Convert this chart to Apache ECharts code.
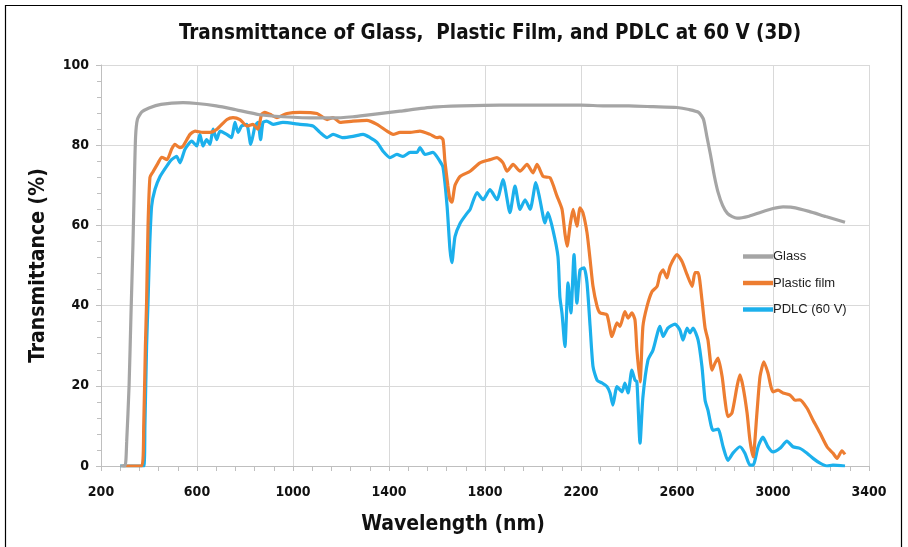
<!DOCTYPE html>
<html><head><meta charset="utf-8">
<script src="https://cdn.jsdelivr.net/npm/echarts@6/dist/echarts.min.js"></script>
<style>html,body{margin:0;padding:0;background:#fff}#c{width:908px;height:547px}</style>
</head><body><div id="c"></div>
<script>
var titleText = 'Transmittance of Glass,  Plastic Film, and PDLC at 60 V (3D)';
var xTitle = 'Wavelength (nm)';
var yTitle = 'Transmittance (%)';
var seriesNames = ['Glass', 'Plastic film', 'PDLC (60 V)'];
var xTicks = {min: 200, max: 3400, step: 400};
var yTicks = {min: 0, max: 100, step: 20};

var glassWl = [280,300,307,317,325,333,338,344,352,370,400,450,542,600,680,750,862,958,1100,1167,1250,1308,1446,1583,1700,1862,2000,2200,2300,2400,2500,2600,2650,2690,2710,2725,2740,2755,2770,2790,2810,2830,2850,2900,2950,3000,3042,3080,3150,3220,3300];
var glassT = [0,0,6,20,38,55,68,82,86.5,88.3,89.3,90.2,90.6,90.4,89.8,89,87.6,87.1,86.8,86.8,87.1,87.5,88.5,89.5,89.8,90,90,90,89.8,89.8,89.6,89.4,88.9,88.2,86.5,82,77.5,72.5,68.5,65,63,62.2,61.8,62.3,63.3,64.2,64.6,64.5,63.5,62.2,60.8];

var plasticWl = [290,370,378,385,390,396,404,417,438,453,475,494,508,529,542,571,592,625,654,683,725,750,779,808,833,854,869,883,904,933,975,1029,1100,1142,1167,1196,1250,1308,1350,1392,1417,1446,1488,1529,1571,1600,1612,1625,1633,1645,1654,1662,1675,1696,1738,1779,1821,1850,1875,1892,1917,1946,1975,2000,2017,2042,2071,2100,2121,2133,2142,2154,2167,2183,2196,2208,2225,2238,2250,2267,2279,2308,2329,2350,2362,2383,2396,2412,2425,2433,2446,2458,2475,2496,2517,2529,2542,2558,2571,2600,2621,2642,2663,2675,2688,2704,2717,2729,2746,2758,2771,2788,2800,2812,2829,2850,2862,2875,2892,2904,2917,2933,2946,2962,2979,3000,3021,3042,3071,3092,3112,3142,3167,3196,3225,3250,3267,3287,3300];
var plasticT = [0,0,10,30,41,60,72,73.4,75.6,77,76.4,79,80.2,79.4,79.8,82.7,83.5,83.2,83.2,84,86.4,86.9,86.4,84.8,85.2,84,87.7,88.2,87.7,86.9,87.9,88.2,87.9,86.4,86.9,85.7,86,86.2,85.2,83.5,82.7,83.2,83.2,83.5,82.7,81.9,82,81.4,76,70,66.4,65.8,70,72.2,73.5,75.6,76.4,76.9,75.6,73.5,75.2,73.5,75.2,73.1,75.2,72.2,71.9,67.3,64,58,54.8,59.8,64,59.8,64.4,63.2,58.2,51.4,44.8,39.8,38.2,37.7,32.3,35.7,34.8,38.5,36.9,38.2,36.4,28.9,21,34.8,39.8,43.5,44.8,47.7,48.9,46.9,49.8,52.7,51,47.7,44.8,48.2,48.2,41.4,34.4,31.4,23.9,25.6,26.9,22.3,16.4,12.3,13.2,19.8,22.7,19.8,13.2,6.4,2.3,13.2,22.3,26,23.2,18.5,18.9,18.2,17.7,16.4,16.5,14.4,11.4,8.2,4.8,3.2,1.9,3.8,2.9];

var pdlcWl = [280,378,383,390,396,403,411,425,446,474,494,515,529,550,578,599,612,625,640,654,667,682,696,724,744,758,771,786,807,824,842,854,865,875,890,917,958,1029,1083,1112,1142,1167,1208,1250,1292,1321,1350,1375,1404,1433,1458,1488,1517,1529,1550,1583,1612,1625,1642,1654,1662,1675,1696,1725,1738,1767,1792,1821,1850,1875,1904,1925,1946,1967,1988,2012,2029,2050,2062,2083,2104,2112,2121,2133,2146,2158,2171,2183,2196,2213,2225,2238,2250,2267,2288,2308,2321,2333,2350,2371,2383,2396,2412,2425,2433,2446,2458,2479,2500,2529,2542,2562,2592,2612,2625,2642,2654,2667,2688,2704,2717,2729,2750,2771,2792,2812,2833,2862,2883,2904,2917,2938,2958,2979,3000,3029,3058,3083,3112,3142,3167,3196,3225,3250,3300];
var pdlcT = [0,0,10,30,41,55,64.8,69,72.2,74.8,76.4,77.2,75.6,79,81,79.8,82.7,79.8,81.4,80.2,84,81.4,83.5,82.7,81.9,85.7,83.2,84.8,85.2,80.2,84.8,85.7,81.4,85.7,86,85.2,85.7,85.2,84.8,83.2,81.9,82.7,81.9,82.2,82.7,81.9,80.7,78.5,76.9,77.7,77.2,78.2,78.2,79.4,77.7,78.2,76,74.5,64.8,54,50.7,57.2,60.5,63,64,68.2,66.4,68.9,66.4,71.4,63.2,69.8,64,66.4,64,70.7,66.4,60.6,63.2,58.9,52.2,42.2,38,29.8,45.7,38.2,52.7,40.6,48.9,49.4,45.7,34.8,24.8,21.4,20.7,19.8,18.2,15.2,19.8,18.5,20.7,18.2,23.9,21.4,21,5.7,17.2,26.4,28.9,34.8,32.3,34.4,35.4,33.9,31.4,34.4,33.2,34.4,31.4,24.8,16.4,13.9,8.9,9.2,4.8,1.4,3.2,4.8,3.2,0.2,0.2,4.8,7.2,4.8,3.5,4.4,6.2,4.8,4.4,3.2,1.9,0.7,0,0.2,0];

var colors = ['#a5a5a5', '#ed7d31', '#1cb0ec'];
var narrow = '"DejaVu Sans Condensed", "Liberation Sans Narrow", "Liberation Sans", sans-serif';

function pairs(xs, ys) { return xs.map(function (x, i) { return [x, ys[i]]; }); }
var dataSets = [pairs(glassWl, glassT), pairs(plasticWl, plasticT), pairs(pdlcWl, pdlcT)];

var chart = echarts.init(document.getElementById('c'), null, {renderer: 'canvas'});
chart.setOption({
  animation: false,
  backgroundColor: '#fff',
  title: {
    text: titleText, left: 485, top: 18, textAlign: 'center',
    textStyle: {fontFamily: narrow, fontWeight: 'bold', fontSize: 20.5, color: '#111'}
  },
  graphic: [{
    type: 'rect', shape: {x: 5.5, y: 5.5, width: 896, height: 600},
    style: {fill: 'none', stroke: '#000', lineWidth: 1.2}, z: 100
  }],
  legend: {
    orient: 'vertical', left: 738, top: 245, itemWidth: 30, itemHeight: 14, itemGap: 13.5,
    textStyle: {fontFamily: '"Liberation Sans", Arial, sans-serif', fontSize: 13, color: '#222', padding: [0,0,0,-5]},
    data: seriesNames.map(function (n, i) { return {name: n, itemStyle: {color: colors[i]}, icon: 'path://M0,5.5 L27,5.5 L27,9.5 L0,9.5 Z'}; })
  },
  grid: {left: 101, right: 39, top: 65, bottom: 81, containLabel: false},
  xAxis: {
    type: 'value', min: xTicks.min, max: xTicks.max, interval: xTicks.step,
    name: xTitle, nameLocation: 'middle', nameGap: 48,
    nameTextStyle: {fontFamily: narrow, fontWeight: 'bold', fontSize: 21, color: '#111', padding: [0, 64, 0, 0]},
    axisLine: {show: true, lineStyle: {color: '#bfbfbf', width: 1}},
    axisTick: {show: true, length: 5, lineStyle: {color: '#bfbfbf'}},
    minorTick: {show: true, splitNumber: 5, length: 5, lineStyle: {color: '#bfbfbf'}},
    axisLabel: {fontFamily: narrow, fontWeight: 'bold', fontSize: 14, color: '#111', margin: 19,
      formatter: function (v) { return String(v); }},
    splitLine: {show: true, lineStyle: {color: '#d9d9d9', width: 1}}
  },
  yAxis: {
    type: 'value', min: yTicks.min, max: yTicks.max, interval: yTicks.step,
    name: yTitle, nameLocation: 'middle', nameGap: 52, nameRotate: 90,
    nameTextStyle: {fontFamily: narrow, fontWeight: 'bold', fontSize: 21, color: '#111'},
    axisLine: {show: true, lineStyle: {color: '#bfbfbf', width: 1}},
    axisTick: {show: true, length: 5, lineStyle: {color: '#bfbfbf'}},
    minorTick: {show: true, splitNumber: 5, length: 4, lineStyle: {color: '#bfbfbf'}},
    axisLabel: {fontFamily: narrow, fontWeight: 'bold', fontSize: 14, color: '#111', margin: 12,
      formatter: function (v) { return String(v); }},
    splitLine: {show: true, lineStyle: {color: '#d9d9d9', width: 1}}
  },
  series: seriesNames.map(function (n, i) {
    return {
      name: n, type: 'line', data: dataSets[i], symbol: 'none', smooth: 0.2,
      lineStyle: {color: colors[i], width: 3.2}, itemStyle: {color: colors[i]}, z: 3 + (2 - i)
    };
  })
});
</script></body></html>
